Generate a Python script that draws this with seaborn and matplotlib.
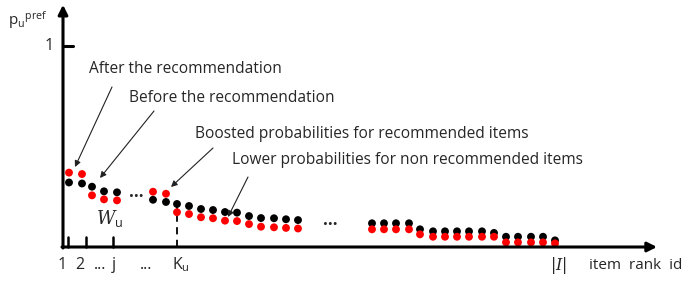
import numpy as np
import pandas as pd
import seaborn as sns
from matplotlib import pyplot as plt

# item rank positions along the x axis
rank_pos = [69, 82, 92, 104, 117, 153, 166, 177, 189, 201, 213, 225, 237, 249, 261, 274, 286, 298,
            372, 384, 396, 409, 420, 433, 445, 457, 469, 482, 494, 506, 518, 531, 543, 555]
# preference probability before the recommendation
p_before = [0.321, 0.316, 0.300, 0.277, 0.272, 0.235, 0.224, 0.214, 0.204, 0.189, 0.184, 0.174,
            0.171, 0.154, 0.144, 0.143, 0.138, 0.134, 0.118, 0.118, 0.118, 0.118, 0.088, 0.078,
            0.078, 0.078, 0.078, 0.078, 0.070, 0.051, 0.051, 0.051, 0.051, 0.033]
# preference probability after the recommendation
p_after = [0.370, 0.363, 0.257, 0.237, 0.232, 0.275, 0.265, 0.173, 0.164, 0.148, 0.143, 0.131,
           0.129, 0.114, 0.101, 0.098, 0.095, 0.092, 0.088, 0.088, 0.088, 0.088, 0.063, 0.051,
           0.051, 0.051, 0.051, 0.051, 0.051, 0.023, 0.023, 0.023, 0.023, 0.018]

tick_pos = [68, 86, 113]
tick_labels = [(62, "1"), (80, "2"), (100, "..."), (114, "j"), (146, "..."),
               (181, r"K$_\mathregular{u}$"), (558, r"$|I|$")]
k_u = 177

df = pd.DataFrame({
	"rank": rank_pos * 2,
	"p": p_before + p_after,
	"stage": ["before"] * len(rank_pos) + ["after"] * len(rank_pos),
})

sns.set_theme(style="white")
plt.rcParams["font.family"] = ["Open Sans", "DejaVu Sans"]
plt.rcParams["mathtext.fontset"] = "dejavuserif"

fig = plt.figure(figsize=(6.84, 2.83), dpi=100)
ax = fig.add_axes([0, 0, 1, 1])
ax.set_xlim(0, 684)
ax.set_ylim(-36 / 201, 247 / 201)
ax.axis("off")

sns.scatterplot(data=df, x="rank", y="p", hue="stage", palette={"before": "black", "after": "red"},
                s=32, linewidth=0, legend=False, ax=ax, zorder=3)

# axes with arrows
axis_arrow = dict(arrowstyle="-|>", lw=2.2, color="black", mutation_scale=14, shrinkA=0, shrinkB=0)
ax.annotate("", xy=(63, 1.205), xytext=(63, -0.005), arrowprops=axis_arrow)
ax.annotate("", xy=(657, 0), xytext=(62, 0), arrowprops=axis_arrow)
ax.plot([63, 73], [1, 1], color="black", lw=2.2)
ax.text(49, 1, "1", ha="center", va="center", fontsize=11.5)
ax.text(8, 1.13, r"p$_\mathregular{u}$$^\mathregular{pref}$", ha="left", va="center", fontsize=11)

for t in tick_pos:
	ax.plot([t, t], [0, 0.05], color="black", lw=1.8)
ax.plot([k_u, k_u], [0, 0.214], color="black", lw=1.3, ls=(0, (4, 3)))
for x, lab in tick_labels:
	ax.text(x, -0.09, lab, ha="center", va="center", fontsize=11.5)
ax.text(682, -0.09, "item  rank  id", ha="right", va="center", fontsize=11)

ax.text(110, 0.14, r"$W_\mathregular{u}$", ha="center", va="center", fontsize=13)
ax.text(136, 0.25, "···", ha="center", va="center", fontsize=12, fontweight="bold")
ax.text(330, 0.109, "···", ha="center", va="center", fontsize=12, fontweight="bold")

# callouts
arr = dict(arrowstyle="-|>", lw=0.8, color="#222222", mutation_scale=9, shrinkA=0, shrinkB=0)
notes = [
	("After the recommendation", (89, 69), (112, 87), (75, 167)),
	("Before the recommendation", (129, 98), (154, 111), (100, 178)),
	("Boosted probabilities for recommended items", (195, 134), (213, 148), (171, 187)),
	("Lower probabilities for non recommended items", (232, 160), (248, 177), (228, 217)),
]
for txt, (tx, ty), (sx, sy), (ex, ey) in notes:
	ax.text(tx, (247 - ty) / 201, txt, ha="left", va="center", fontsize=11.2)
	ax.annotate("", xy=(ex, (247 - ey) / 201), xytext=(sx, (247 - sy) / 201), arrowprops=arr)

fig.savefig("out.png", dpi=100)
